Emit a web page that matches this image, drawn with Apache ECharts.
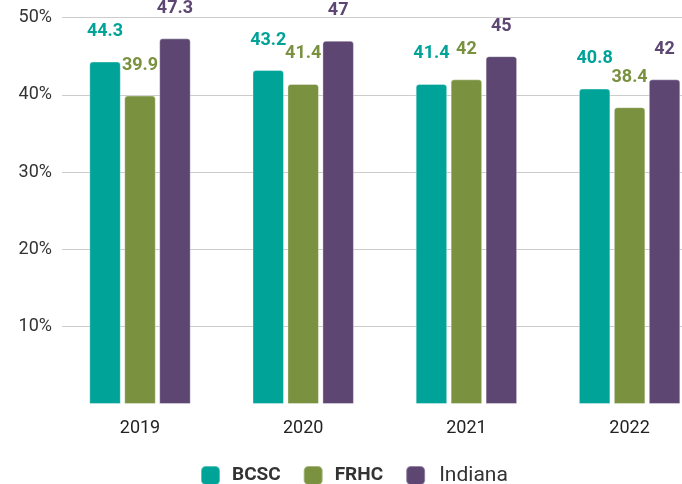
<!DOCTYPE html>
<html>
<head>
<meta charset="utf-8">
<script src="https://cdn.jsdelivr.net/npm/echarts@6/dist/echarts.min.js"></script>
<style>
  html, body { margin: 0; padding: 0; background: #fff; }
  #chart { width: 682px; height: 484px; }
</style>
</head>
<body>
<div id="chart"></div>
<script>
var years = ['2019', '2020', '2021', '2022'];
var bcsc = [44.3, 43.2, 41.4, 40.8];
var frhc = [39.9, 41.4, 42, 38.4];
var indiana = [47.3, 47, 45, 42];

var colors = ['#00A398', '#7A9140', '#5D4772'];

var myChart = echarts.init(document.getElementById('chart'));

function barSeries(name, data, color) {
	return {
		name: name,
		type: 'bar',
		xAxisIndex: 1,
		yAxisIndex: 1,
		data: data,
		barWidth: 31.5,
		barGap: '11%',
		itemStyle: {
			color: color,
			borderRadius: [3, 3, 0, 0],
			borderColor: 'rgba(255,255,255,0.35)',
			borderWidth: 1
		},
		label: {
			show: true,
			position: 'top',
			distance: 21,
			color: color,
			fontFamily: 'Roboto',
			fontWeight: 'bold',
			fontSize: 18
		}
	};
}

var option = {
	animation: false,
	color: colors,
	// grid 0: gridlines + y labels, grid 1: bars (runs past the right edge like the original)
	grid: [
		{ left: 62, right: 0, top: 17.5, bottom: 80, outerBoundsMode: 'none' },
		{ left: 58.4, width: 652.8, top: 17.5, bottom: 80, outerBoundsMode: 'none' }
	],
	legend: {
		left: 195,
		top: 460,
		itemWidth: 19,
		itemHeight: 19,
		itemGap: 22,
		icon: 'roundRect',
		data: [
			{ name: 'BCSC', textStyle: { fontSize: 19, fontWeight: 'bold', color: '#333', fontFamily: 'Roboto', padding: [0, 0, 0, 7] } },
			{ name: 'FRHC', textStyle: { fontSize: 19, fontWeight: 'bold', color: '#333', fontFamily: 'Roboto', padding: [0, 0, 0, 7] } },
			{ name: 'Indiana', textStyle: { fontSize: 21, color: '#333', fontFamily: 'Roboto', padding: [0, 0, 0, 9] } }
		]
	},
	xAxis: [
		{ gridIndex: 0, type: 'value', show: false, min: 0, max: 1 },
		{
			gridIndex: 1,
			type: 'category',
			data: years,
			axisLine: { show: false },
			axisTick: { show: false },
			axisLabel: {
				margin: 15,
				fontSize: 18,
				color: '#222',
				fontFamily: 'Roboto'
			}
		}
	],
	yAxis: [
		{
			gridIndex: 0,
			type: 'value',
			min: 0,
			max: 50,
			interval: 10,
			axisLine: { show: false },
			axisTick: { show: false },
			axisLabel: {
				showMinLabel: false,
				margin: 10,
				formatter: '{value}%',
				fontSize: 18,
				color: '#333',
				fontFamily: 'Roboto'
			},
			splitLine: {
				showMinLine: false,
				lineStyle: { color: '#CCCCCC', width: 1 }
			}
		},
		{
			gridIndex: 1,
			type: 'value',
			min: 0,
			max: 50,
			interval: 10,
			show: false
		}
	],
	series: [
		barSeries('BCSC', bcsc, colors[0]),
		barSeries('FRHC', frhc, colors[1]),
		barSeries('Indiana', indiana, colors[2])
	]
};

myChart.setOption(option);
</script>
</body>
</html>
